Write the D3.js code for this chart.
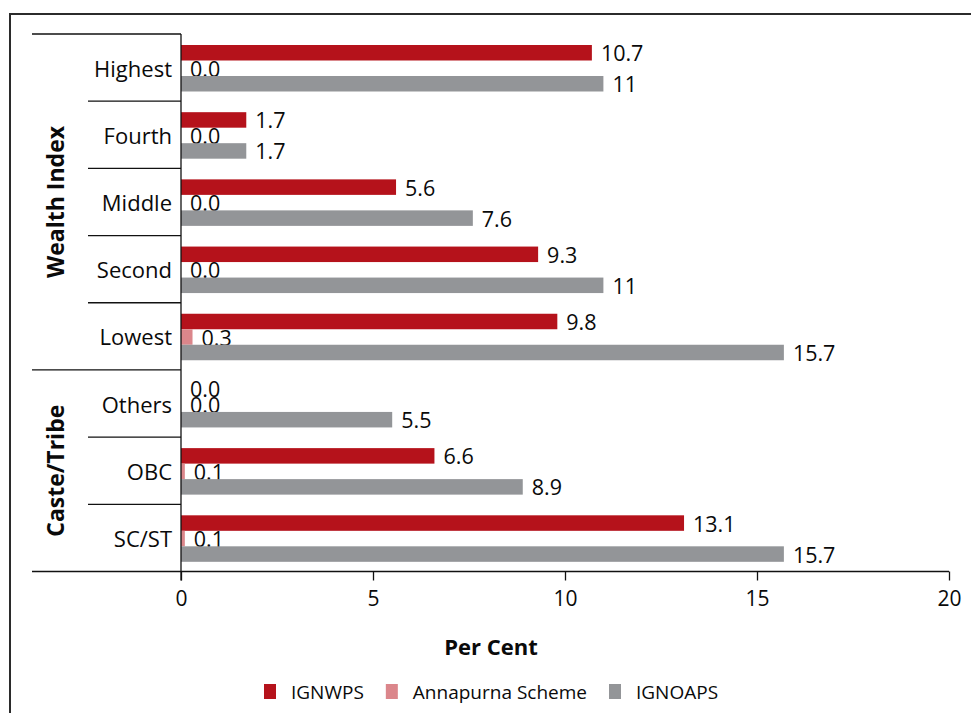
<!DOCTYPE html>
<html>
<head>
<meta charset="utf-8">
<script src="https://cdn.jsdelivr.net/npm/d3@7"></script>
<style>
  html, body { margin: 0; padding: 0; background: #fff; }
  svg { display: block; font-family: "Open Sans", "Noto Sans", sans-serif; }
</style>
</head>
<body>
<svg id="chart" width="971" height="713"></svg>
<script>
// ---- data ----
const categories = ["Highest", "Fourth", "Middle", "Second", "Lowest", "Others", "OBC", "SC/ST"];
const groups = ["Wealth Index", "Caste/Tribe"];
const groupOf = ["Wealth Index", "Wealth Index", "Wealth Index", "Wealth Index", "Wealth Index", "Caste/Tribe", "Caste/Tribe", "Caste/Tribe"];
const seriesNames = ["IGNWPS", "Annapurna Scheme", "IGNOAPS"];
const ignwps = [10.7, 1.7, 5.6, 9.3, 9.8, 0.0, 6.6, 13.1];
const annapurna = [0.0, 0.0, 0.0, 0.0, 0.3, 0.0, 0.1, 0.1];
const ignoaps = [11, 1.7, 7.6, 11, 15.7, 5.5, 8.9, 15.7];
const ignwpsLabels = ["10.7", "1.7", "5.6", "9.3", "9.8", "0.0", "6.6", "13.1"];
const annapurnaLabels = ["0.0", "0.0", "0.0", "0.0", "0.3", "0.0", "0.1", "0.1"];
const ignoapsLabels = ["11", "1.7", "7.6", "11", "15.7", "5.5", "8.9", "15.7"];
const xTicks = [0, 5, 10, 15, 20];
const colors = ["#b5121b", "#db868b", "#939598"];

const seriesValues = [ignwps, annapurna, ignoaps];
const seriesLabels = [ignwpsLabels, annapurnaLabels, ignoapsLabels];

// ---- layout ----
const svg = d3.select("#chart");
const plotTop = 34, plotBottom = 571.5;
const x = d3.scaleLinear().domain([0, 20]).range([181, 949]);
const y0 = d3.scaleBand().domain(categories).range([plotTop, plotBottom]).paddingInner(0).paddingOuter(0);
const y1 = d3.scaleBand().domain(seriesNames).range([11, 11 + 46.5]);
const color = d3.scaleOrdinal().domain(seriesNames).range(colors);
const ink = "#0a0a0a";

// frame (top and left edges)
svg.append("path")
  .attr("d", "M10,713 L10,14 L971,14")
  .attr("fill", "none").attr("stroke", "#2b2b2b").attr("stroke-width", 2);

// bars
const rows = categories.map((c, i) => ({ cat: c, i }));
const catG = svg.selectAll("g.cat").data(rows).join("g")
  .attr("class", "cat")
  .attr("transform", d => `translate(0,${y0(d.cat)})`);

seriesNames.forEach((s, si) => {
  catG.append("rect")
    .attr("x", x(0))
    .attr("y", y1(s))
    .attr("width", d => Math.max(0, x(seriesValues[si][d.i]) - x(0)))
    .attr("height", y1.bandwidth())
    .attr("fill", color(s));
  catG.append("text")
    .attr("x", d => x(seriesValues[si][d.i]) + 9)
    .attr("y", y1(s) + y1.bandwidth() / 2)
    .attr("dominant-baseline", "central")
    .attr("font-size", 21.5)
    .attr("fill", ink)
    .text(d => seriesLabels[si][d.i]);
});

// category labels
svg.selectAll("text.catlab").data(categories).join("text")
  .attr("class", "catlab")
  .attr("x", 172)
  .attr("y", d => y0(d) + y0.bandwidth() / 2)
  .attr("text-anchor", "end")
  .attr("dominant-baseline", "central")
  .attr("font-size", 22)
  .attr("fill", ink)
  .text(d => d);

// separators
const lineCol = "#111";
categories.forEach((c, i) => {
  const yy = y0(c);
  const isGroupStart = i === 0 || groupOf[i] !== groupOf[i - 1];
  svg.append("line")
    .attr("x1", isGroupStart ? 32 : 88).attr("x2", x(0))
    .attr("y1", yy).attr("y2", yy)
    .attr("stroke", lineCol).attr("stroke-width", 1.3);
});
// bottom line / x axis baseline
svg.append("line")
  .attr("x1", 32).attr("x2", x(20))
  .attr("y1", plotBottom).attr("y2", plotBottom)
  .attr("stroke", lineCol).attr("stroke-width", 1.3);
// vertical axis line
svg.append("line")
  .attr("x1", x(0)).attr("x2", x(0))
  .attr("y1", plotTop).attr("y2", plotBottom + 9)
  .attr("stroke", lineCol).attr("stroke-width", 1.3);

// group labels
groups.forEach(g => {
  const idx = categories.filter((c, i) => groupOf[i] === g);
  const top = y0(idx[0]);
  const bot = y0(idx[idx.length - 1]) + y0.bandwidth();
  const cy = (top + bot) / 2;
  svg.append("text")
    .attr("transform", `translate(64,${cy}) rotate(-90)`)
    .attr("text-anchor", "middle")
    .attr("font-size", 23)
    .attr("font-weight", "bold")
    .attr("fill", ink)
    .text(g);
});

// x axis
const xAxis = d3.axisBottom(x).tickValues(xTicks).tickSize(9).tickPadding(11);
const ax = svg.append("g")
  .attr("transform", `translate(0,${plotBottom})`)
  .call(xAxis);
ax.select(".domain").remove();
ax.selectAll(".tick line").attr("stroke", lineCol).attr("stroke-width", 1.3);
ax.selectAll(".tick text")
  .attr("font-size", 21)
  .attr("font-family", "'Open Sans', 'Noto Sans', sans-serif")
  .attr("fill", ink);

// x axis title
svg.append("text")
  .attr("x", 491).attr("y", 655)
  .attr("text-anchor", "middle")
  .attr("font-size", 22)
  .attr("font-weight", "bold")
  .attr("fill", ink)
  .text("Per Cent");

// legend
const leg = svg.append("g").attr("transform", "translate(264,684)");
let lx = 0;
seriesNames.forEach((s, si) => {
  leg.append("rect").attr("x", lx).attr("y", 0).attr("width", 12).attr("height", 15).attr("fill", color(s));
  const t = leg.append("text")
    .attr("x", lx + 27).attr("y", 7.5)
    .attr("dominant-baseline", "central")
    .attr("font-size", 19)
    .attr("fill", ink)
    .text(s);
  lx += 27 + t.node().getComputedTextLength() + 22;
});
</script>
</body>
</html>
